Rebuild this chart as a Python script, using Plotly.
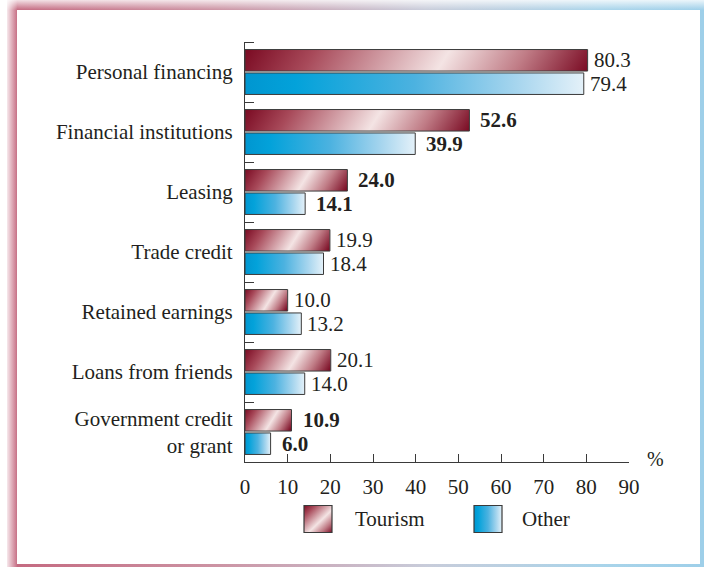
import base64
import plotly.graph_objects as go

# ---- data ----
categories = [
    "Personal financing",
    "Financial institutions",
    "Leasing",
    "Trade credit",
    "Retained earnings",
    "Loans from friends",
    "Government credit<br>or grant",
]
tourism = [80.3, 52.6, 24.0, 19.9, 10.0, 20.1, 10.9]
other = [79.4, 39.9, 14.1, 18.4, 13.2, 14.0, 6.0]
tourism_bold = [False, True, True, False, False, False, True]
other_bold = [False, True, True, False, False, False, True]
series_names = ["Tourism", "Other"]
x_ticks = [0, 10, 20, 30, 40, 50, 60, 70, 80, 90]
x_max = 90

# ---- page geometry (pixels) ----
W, H = 704, 567
ML, MR, MT, MB = 245, 75, 42, 105
PW, PH = W - ML - MR, H - MT - MB
BARGAP, BARGROUPGAP = 0.22, 0.08
SLOT = (1 - BARGAP) / 2
BAR_W = SLOT * (1 - BARGROUPGAP)
OFFSETS = [-SLOT / 2, SLOT / 2]
PX_PER_CAT = PH / len(categories)

FONT = "Times New Roman, Liberation Serif, Times, serif"
INK = "#231f20"
EDGE = "#3a3a3a"

TOURISM_STOPS = [(0, "#7a0a22"), (0.2, "#a84a5a"), (0.58, "#f4e4e4"), (0.8, "#c07c86"), (1, "#7c0e26")]
OTHER_STOPS = [(0, "#0096d0"), (0.15, "#03a2da"), (0.5, "#4cb2e0"), (0.8, "#a6d5ee"), (1, "#e4f1f9")]


def svg_uri(svg):
    return "data:image/svg+xml;base64," + base64.b64encode(svg.encode()).decode()


def stops_xml(stops):
    return "".join(f'<stop offset="{o}" stop-color="{c}"/>' for o, c in stops)


def bar_fill(stops, w_px, h_px, skew):
    shift = abs(skew) / 60.0 * h_px
    svg = (
        f'<svg xmlns="http://www.w3.org/2000/svg" width="{w_px:.2f}" height="{h_px:.2f}" '
        f'viewBox="0 0 {w_px:.2f} {h_px:.2f}" preserveAspectRatio="none"><defs>'
        f'<linearGradient id="g" gradientUnits="userSpaceOnUse" x1="0" y1="0" '
        f'x2="{w_px + shift:.2f}" y2="0" gradientTransform="skewX({skew})">'
        f'{stops_xml(stops)}</linearGradient></defs>'
        f'<rect x="0" y="0" width="{w_px:.2f}" height="{h_px:.2f}" fill="url(#g)"/></svg>'
    )
    return svg_uri(svg)


def box_fill(stops, diagonal):
    x2, y2 = ("1", "1") if diagonal else ("1", "0")
    svg = (
        '<svg xmlns="http://www.w3.org/2000/svg" width="28" height="27" viewBox="0 0 28 27" '
        'preserveAspectRatio="none"><defs>'
        f'<linearGradient id="g" x1="0" y1="0" x2="{x2}" y2="{y2}">{stops_xml(stops)}</linearGradient>'
        '</defs><rect width="28" height="27" fill="url(#g)"/></svg>'
    )
    return svg_uri(svg)


def frame_svg():
    svg = (
        f'<svg xmlns="http://www.w3.org/2000/svg" width="{W}" height="{H}" viewBox="0 0 {W} {H}" '
        'preserveAspectRatio="none"><defs>'
        '<linearGradient id="h" x1="0" y1="0" x2="1" y2="0">'
        '<stop offset="0" stop-color="#c4687f"/><stop offset="0.3" stop-color="#cc93a3"/>'
        '<stop offset="0.6" stop-color="#c8ccda"/><stop offset="0.85" stop-color="#a9d4ea"/>'
        '<stop offset="1" stop-color="#9ecfe9"/></linearGradient>'
        '<linearGradient id="ft" x1="0" y1="0" x2="0" y2="1">'
        '<stop offset="0" stop-color="#fff" stop-opacity="0.8"/>'
        '<stop offset="1" stop-color="#fff" stop-opacity="0"/></linearGradient>'
        '<linearGradient id="fl" x1="0" y1="0" x2="1" y2="0">'
        '<stop offset="0" stop-color="#fff" stop-opacity="0.85"/>'
        '<stop offset="1" stop-color="#fff" stop-opacity="0.05"/></linearGradient>'
        '</defs>'
        f'<rect x="7" y="0" width="{W - 7}" height="{H}" fill="url(#h)"/>'
        f'<rect x="7" y="0" width="{W - 7}" height="10" fill="url(#ft)"/>'
        f'<rect x="7" y="0" width="10" height="{H}" fill="url(#fl)"/>'
        f'<rect x="17" y="10" width="{W - 17 - 4}" height="{H - 10 - 3}" fill="#ffffff"/>'
        '</svg>'
    )
    return svg_uri(svg)


def px_x(px):
    return (px - ML) / PW


def px_y(py):
    return (MT + PH - py) / PH


fig = go.Figure()

for k, (name, vals) in enumerate(zip(series_names, [tourism, other])):
    fig.add_trace(
        go.Bar(
            name=name,
            y=list(range(len(categories))),
            x=vals,
            orientation="h",
            marker=dict(color="rgba(0,0,0,0)", line=dict(color=EDGE, width=1)),
            hoverinfo="x+name",
            showlegend=False,
        )
    )

images = [
    dict(source=frame_svg(), xref="paper", yref="paper", x=px_x(0), y=px_y(0),
         sizex=W / PW, sizey=H / PH, xanchor="left", yanchor="top",
         sizing="stretch", layer="below")
]

annotations = []
bar_px_h = BAR_W * PX_PER_CAT
for k, (vals, bold, stops, skew) in enumerate(
    [(tourism, tourism_bold, TOURISM_STOPS, -32), (other, other_bold, OTHER_STOPS, 0)]
):
    for i, v in enumerate(vals):
        yc = i + OFFSETS[k]
        images.append(dict(
            source=bar_fill(stops, v * PW / x_max, bar_px_h, skew),
            xref="x", yref="y", x=0, y=yc, sizex=v, sizey=BAR_W,
            xanchor="left", yanchor="middle", sizing="stretch", layer="below",
        ))
        label = f"{v:.1f}"
        annotations.append(dict(
            x=v, y=yc, xref="x", yref="y", showarrow=False,
            text=f"<b>{label}</b>" if bold[i] else label,
            xanchor="left", yanchor="middle", xshift=9 if bold[i] else 4,
            font=dict(family=FONT, size=21, color=INK),
        ))

# legend swatches and names
legend_items = [("Tourism", TOURISM_STOPS, True, 318, 353), ("Other", OTHER_STOPS, False, 488, 520)]
shapes = []
LEG_Y = 519
for name, stops, diag, cx, tx in legend_items:
    images.append(dict(
        source=box_fill(stops, diag), xref="paper", yref="paper",
        x=px_x(cx), y=px_y(LEG_Y), sizex=28 / PW, sizey=27 / PH,
        xanchor="center", yanchor="middle", sizing="stretch", layer="below",
    ))
    shapes.append(dict(
        type="rect", xref="paper", yref="paper",
        x0=px_x(cx - 14), x1=px_x(cx + 14), y0=px_y(LEG_Y - 13.5), y1=px_y(LEG_Y + 13.5),
        line=dict(color=EDGE, width=1.2), fillcolor="rgba(0,0,0,0)",
    ))
    annotations.append(dict(
        x=px_x(tx), y=px_y(LEG_Y), xref="paper", yref="paper", showarrow=False,
        text=name, xanchor="left", yanchor="middle",
        font=dict(family=FONT, size=21, color=INK),
    ))

# unit label at the end of the value axis
annotations.append(dict(
    x=px_x(655), y=px_y(459), xref="paper", yref="paper", showarrow=False,
    text="%", xanchor="center", yanchor="middle",
    font=dict(family=FONT, size=20, color=INK),
))

fig.update_layout(
    width=W, height=H,
    margin=dict(l=ML, r=MR, t=MT, b=MB, pad=0),
    paper_bgcolor="#ffffff", plot_bgcolor="#ffffff",
    barmode="group", bargap=BARGAP, bargroupgap=BARGROUPGAP,
    font=dict(family=FONT, size=21, color=INK),
    images=images, annotations=annotations, shapes=shapes,
    showlegend=False,
    xaxis=dict(
        range=[0, x_max], tickvals=x_ticks, ticks="inside", ticklen=8, tickwidth=1.2,
        tickcolor=EDGE, showline=True, linecolor=EDGE, linewidth=1.3,
        showgrid=False, zeroline=False, ticklabelstandoff=6,
        tickfont=dict(family=FONT, size=21, color=INK),
    ),
    yaxis=dict(
        range=[len(categories) - 0.5, -0.5],
        tickvals=list(range(len(categories))), ticktext=categories,
        ticks="", showline=True, linecolor=EDGE, linewidth=1.3,
        showgrid=False, zeroline=False, ticklabelstandoff=7,
        tickfont=dict(family=FONT, size=21, color=INK),
        minor=dict(
            tickmode="array",
            tickvals=[i - 0.5 for i in range(len(categories))],
            ticks="inside", ticklen=9, tickwidth=1.2, tickcolor=EDGE, showgrid=False,
        ),
    ),
)

fig.write_html("out.html")
